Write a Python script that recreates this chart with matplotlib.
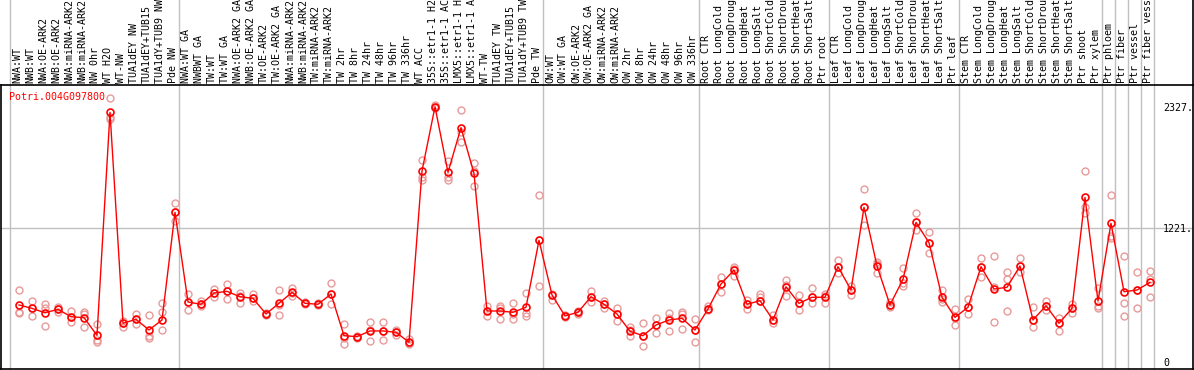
import matplotlib
matplotlib.use("Agg")
import matplotlib.pyplot as plt

gene_name = "Potri.004G097800"

sample_labels = [
    "NWA:WT", "NWB:WT", "NWA:OE-ARK2", "NWB:OE-ARK2", "NWA:miRNA-ARK2",
    "NWB:miRNA-ARK2", "NW 0hr", "WT H2O", "WT-NW", "TUA1dEY NW",
    "TUA1dEY+TUB15", "TUA1dY+TUB9 NW", "Pde NW",
    "NWA:WT GA", "NWBWT GA", "TW:WT", "TW:WT GA", "NWA:OE-ARK2 GA",
    "NWB:OE-ARK2 GA", "TW:OE-ARK2", "TW:OE-ARK2 GA", "NWA:miRNA-ARK2",
    "NWB:miRNA-ARK2", "TW:miRNA-ARK2", "TW:miRNA-ARK2", "TW 2hr", "TW 8hr",
    "TW 24hr", "TW 48hr", "TW 96hr", "TW 336hr", "WT ACC", "35S::etr1-1 H2",
    "35S::etr1-1 AC", "LMX5::etr1-1 H", "LMX5::etr1-1 A", "WT-TW",
    "TUA1dEY TW", "TUA1dEY+TUB15", "TUA1dY+TUB9 TW", "Pde TW",
    "OW:WT", "OW:WT GA", "OW:OE-ARK2", "OW:OE-ARK2 GA", "OW:miRNA-ARK2",
    "OW:miRNA-ARK2", "OW 2hr", "OW 8hr", "OW 24hr", "OW 48hr", "OW 96hr",
    "OW 336hr",
    "Root CTR", "Root LongCold", "Root LongDroug", "Root LongHeat",
    "Root LongSalt", "Root ShortCold", "Root ShortDrou", "Root ShortHeat",
    "Root ShortSalt", "Ptr root",
    "Leaf CTR", "Leaf LongCold", "Leaf LongDroug", "Leaf LongHeat",
    "Leaf LongSalt", "Leaf ShortCold", "Leaf ShortDrou", "Leaf ShortHeat",
    "Leaf ShortSalt", "Ptr leaf",
    "Stem CTR", "Stem LongCold", "Stem LongDroug", "Stem LongHeat",
    "Stem LongSalt", "Stem ShortCold", "Stem ShortDrou", "Stem ShortHeat",
    "Stem ShortSalt", "Ptr shoot", "Ptr xylem",
    "Ptr phloem", "Ptr fiber", "Ptr vessel", "Ptr fiber vess",
]

# first sample index of each group (last entry closes the final group)
group_starts = [0, 13, 41, 53, 63, 73, 84, 85, 86, 87, 88]

mean_expression = [
    520, 489, 449, 480, 413, 404, 243, 2276, 353, 389, 292, 383, 1364,
    547, 526, 629, 644, 595, 580, 438, 535, 635, 535, 526, 620, 240, 231,
    283, 283, 271, 180, 1741, 2327, 1729, 2136, 1719, 465, 465, 453, 499,
    1109,
    611, 420, 453, 595, 526, 438, 280, 240, 337, 383, 398, 292,
    483, 711, 839, 526, 559, 383, 686, 535, 590, 590,
    869, 656, 1410, 875, 520, 754, 1273, 1088, 590, 407,
    499, 869, 665, 681, 875, 383, 513, 353, 489, 1500, 556,
    1264, 641, 656, 726,
]

replicate_1 = [
    656, 556, 531, 504, 468, 458, 346, 2404, 316, 435, 426, 535, 1447,
    620, 553, 663, 711, 632, 622, 438, 656, 677, 545, 535, 717, 343, 240,
    362, 362, 292, 210, 1841, 2340, 1835, 2297, 1810, 510, 510, 535, 626,
    1519,
    620, 420, 466, 647, 556, 489, 316, 353, 398, 449, 458, 392,
    510, 772, 869, 565, 617, 426, 747, 611, 672, 620,
    930, 695, 1577, 915, 550, 854, 1355, 1182, 656, 483,
    571, 945, 966, 823, 945, 499, 556, 398, 529, 1741, 677,
    1519, 966, 817, 832,
]

replicate_2 = [
    447, 422, 328, 458, 367, 316, 180, 2212, 360, 343, 216, 459, 1285,
    474, 510, 595, 577, 541, 560, 430, 428, 604, 528, 520, 526, 161, 222,
    191, 201, 250, 165, 1684, 2315, 1659, 2008, 1602, 420, 389, 389, 420,
    693,
    565, 410, 440, 550, 495, 377, 237, 149, 261, 283, 298, 185,
    483, 635, 786, 486, 559, 383, 602, 474, 535, 535,
    808, 611, 1249, 811, 520, 693, 1203, 991, 544, 337,
    435, 778, 362, 754, 823, 322, 474, 286, 447, 1410, 489,
    1127, 535, 489, 754,
]

replicate_3 = [
    460, 489, 489, 480, 413, 440, 200, 2230, 372, 389, 235, 292, 1364,
    547, 526, 629, 644, 600, 580, 446, 520, 625, 535, 526, 617, 216, 231,
    296, 286, 271, 170, 1660, 2327, 1690, 2100, 1745, 465, 496, 435, 450,
    1115,
    611, 430, 453, 590, 526, 438, 290, 240, 337, 400, 440, 292,
    470, 711, 850, 526, 590, 360, 700, 535, 590, 600,
    869, 656, 1410, 890, 500, 720, 1273, 1088, 575, 400,
    499, 869, 680, 465, 875, 383, 513, 353, 489, 1355, 510,
    1150, 420, 656, 595,
]

ytick_values = [0, 1221, 2327]
ytick_labels = ["0", "1221.", "2327."]

grid_color = "#c0c0c0"
replicate_color = "#e89a9a"
mono = "DejaVu Sans Mono"

width_px, height_px = 1194, 370
figure = plt.figure(figsize=(width_px / 100, height_px / 100), dpi=100)

# plot box in pixels: x 1..1193, y 85..369 (from the top)
axis = figure.add_axes([1 / width_px, 1 / height_px,
                        1192 / width_px, 284 / height_px])
axis.set_xlim((1 - 19) / 13, (1193 - 19) / 13)
axis.set_ylim(-63.8, 2525)

x = list(range(len(sample_labels)))

for reps in (replicate_1, replicate_2, replicate_3):
    axis.plot(x, reps, linestyle="none", marker="o", markersize=5,
              markerfacecolor="none", markeredgecolor=replicate_color,
              markeredgewidth=1.0, zorder=2)

axis.plot(x, mean_expression, color="red", linewidth=1.0, marker="o",
          markersize=5, markerfacecolor="none", markeredgecolor="red",
          markeredgewidth=1.2, zorder=3)

# group separators run up through the label strip
above = 1 + 85 / 284
for start in group_starts:
    axis.axvline(start - 9 / 13, ymin=0, ymax=above, color=grid_color,
                 linewidth=1.0, clip_on=False, zorder=1)
axis.axvline((1193 - 19) / 13, ymin=1, ymax=above, color="black",
             linewidth=1.2, clip_on=False)
axis.axhline(1221, color=grid_color, linewidth=1.0, zorder=1)

for i, label in enumerate(sample_labels):
    axis.annotate(label, xy=(i - 0.15, 1), xycoords=("data", "axes fraction"),
                  xytext=(0, 1.5), textcoords="offset points",
                  rotation=90, ha="center", va="bottom",
                  family=mono, fontsize=7.2, annotation_clip=False)

axis.set_xticks([])
axis.set_yticks(ytick_values)
axis.set_yticklabels(ytick_labels, family=mono, fontsize=7.2)
axis.tick_params(axis="y", length=0, left=False, labelleft=False,
                 right=False, labelright=True, pad=-21.6)

for spine in axis.spines.values():
    spine.set_linewidth(1.2)

figure.text(9 / width_px, 1 - 97 / height_px, gene_name, color="red",
            family=mono, fontsize=7.2, ha="left", va="center")

plt.savefig("out.png", dpi=100)
